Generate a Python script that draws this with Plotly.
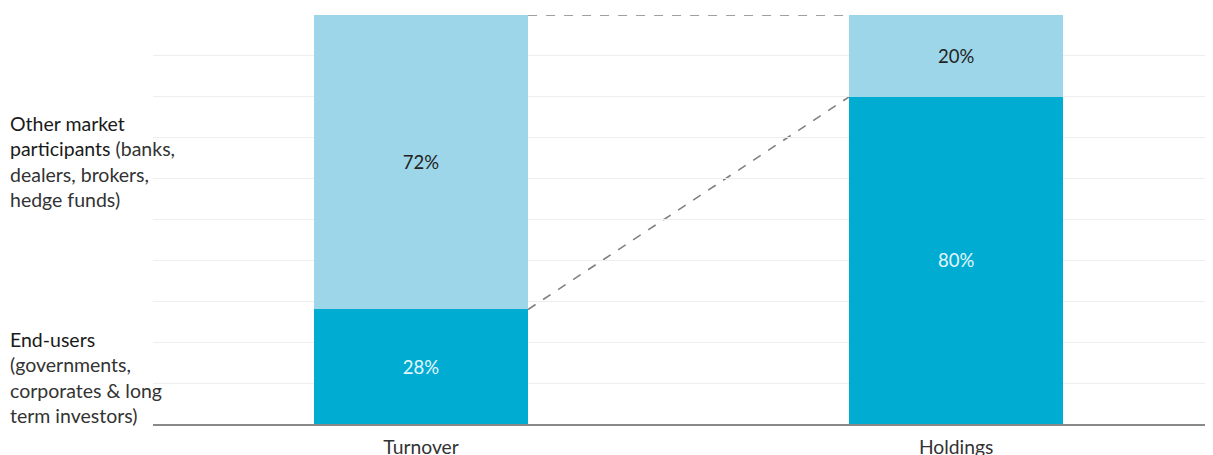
import plotly.graph_objects as go

categories = ["Turnover", "Holdings"]
end_users = [28, 80]
other_participants = [72, 20]
series_labels = [
    "<span style='color:#1a1a1a'>End-users</span><br>(governments,<br>corporates &amp; long<br>term investors)",
    "<span style='color:#1a1a1a'>Other market<br>participants</span> (banks,<br>dealers, brokers,<br>hedge funds)",
]
y_ticks = list(range(0, 101, 10))

DARK = "#00acd2"
LIGHT = "#9dd6e8"
FONT = "Lato, 'Noto Sans', sans-serif"
BAR_W = 0.4

fig = go.Figure()
fig.add_trace(go.Bar(
    x=list(range(len(categories))), y=end_users, width=BAR_W,
    marker=dict(color=DARK, line=dict(width=0)),
    text=[f"{v}%" for v in end_users], textposition="inside",
    insidetextanchor="middle", textangle=0,
    textfont=dict(color="#e6f7fb", size=18.5, family=FONT),
    hoverinfo="skip", showlegend=False,
))
fig.add_trace(go.Bar(
    x=list(range(len(categories))), y=other_participants, width=BAR_W,
    marker=dict(color=LIGHT, line=dict(width=0)),
    text=[f"{v}%" for v in other_participants], textposition="inside",
    insidetextanchor="middle", textangle=0,
    textfont=dict(color="#222222", size=18.5, family=FONT),
    hoverinfo="skip", showlegend=False,
))

# dashed connectors between bars
tops = [e + o for e, o in zip(end_users, other_participants)]
dash_style = dict(color="#808080", width=1.6, dash="dash")
fig.add_shape(type="line", xref="x", yref="y",
              x0=0 + BAR_W / 2, y0=tops[0], x1=1 - BAR_W / 2, y1=tops[1],
              line=dash_style, layer="below")
fig.add_shape(type="line", xref="x", yref="y",
              x0=0 + BAR_W / 2, y0=end_users[0], x1=1 - BAR_W / 2, y1=end_users[1],
              line=dash_style, layer="below")

# left side series labels
fig.add_annotation(text=series_labels[1], xref="paper", yref="y",
                   x=-0.1358, y=64.1, xanchor="left", yanchor="middle",
                   align="left", showarrow=False,
                   font=dict(size=19.5, color="#333333", family=FONT))
fig.add_annotation(text=series_labels[0], xref="paper", yref="y",
                   x=-0.1358, y=11.4, xanchor="left", yanchor="middle",
                   align="left", showarrow=False,
                   font=dict(size=19.5, color="#333333", family=FONT))

fig.update_layout(
    barmode="stack",
    width=1213, height=455,
    margin=dict(l=145, r=0, t=7, b=39),
    plot_bgcolor="white", paper_bgcolor="white",
    font=dict(family=FONT, size=16, color="#333333"),
    xaxis=dict(
        range=[-0.501, 1.495], tickmode="array",
        tickvals=list(range(len(categories))), ticktext=categories,
        showgrid=False, zeroline=False, showline=True,
        linecolor="#888888", linewidth=1.5, ticks="",
        ticklabelstandoff=5,
        tickfont=dict(size=19.3, color="#333333", family=FONT),
    ),
    yaxis=dict(
        range=[0, 100], tickvals=y_ticks, showticklabels=False,
        showgrid=True, gridcolor="#eeeeee", gridwidth=1,
        zeroline=False, showline=False, ticks="",
    ),
)

fig.write_html("out.html")
